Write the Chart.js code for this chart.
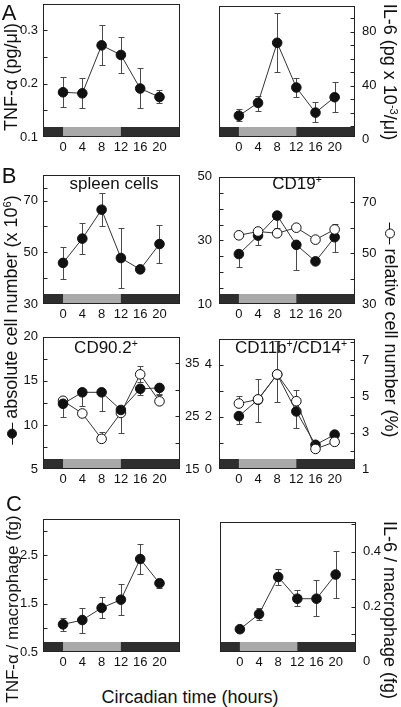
<!DOCTYPE html>
<html><head><meta charset="utf-8">
<script src="https://cdn.jsdelivr.net/npm/chart.js@4.4.0/dist/chart.umd.min.js"></script>
<style>
html,body{margin:0;padding:0;background:#fff;width:401px;height:707px;overflow:hidden;position:relative;font-family:"Liberation Sans",Arial,Helvetica,sans-serif;color:#111}
canvas{position:absolute}
.t{position:absolute;white-space:nowrap;line-height:1;font-size:18px}
.t sup{font-size:0.62em;vertical-align:0.55em;line-height:0}
.sym{display:inline-block;position:relative;width:22px;height:10px;vertical-align:middle;margin:0 4px 0 0}
.sym:before{content:"";position:absolute;left:0;right:0;top:50%;border-top:1.3px solid #111}
.sym i{position:absolute;left:6px;top:0;width:8px;height:8px;border-radius:50%;border:1px solid #111;background:#111}
.sym.o i{background:#fff}
</style></head><body>
<script>
// ---------- data ----------
const hours = [0, 4, 8, 12, 16, 20];
const xTicks = [0, 4, 8, 12, 16, 20];
const lightPhase = [0, 12];

// A: serum cytokines
const tnfSerum   = [0.184, 0.182, 0.272, 0.254, 0.191, 0.175];
const tnfSerumHi = [0.212, 0.210, 0.310, 0.288, 0.230, 0.189];
const tnfSerumLo = [0.156, 0.155, 0.235, 0.220, 0.154, 0.163];
const il6Serum   = [17.9, 27.4, 71.9, 38.8, 20.2, 31.6];
const il6SerumHi = [22.9, 32.6, 94.1, 45.7, 27.9, 42.9];
const il6SerumLo = [13.8, 21.4, 50.0, 32.1, 13.1, 20.7];

// B: cell numbers
const spleenAbs   = [45.9, 55.3, 66.5, 47.8, 43.4, 53.2];
const spleenAbsHi = [52.2, 61.3, 72.9, 59.4, null, 60.7];
const spleenAbsLo = [39.7, 49.3, 60.1, 36.1, null, 45.9];

const cd19Abs   = [25.7, 31.5, 37.8, 28.6, 23.4, 31.0];
const cd19AbsHi = [null, null, null, null, null, null];
const cd19AbsLo = [21.5, 28.4, 33.8, 20.7, null, 26.2];
const cd19Rel   = [57.0, 58.5, 57.8, 60.0, 55.3, 59.3];
const cd19RelHi = [null, null, null, null, null, 61.6];
const cd19RelLo = [null, null, null, null, null, null];

const cd90Abs   = [12.4, 13.7, 13.7, 11.7, 14.1, 14.2];
const cd90AbsHi = [13.0, null, null, null, null, null];
const cd90AbsLo = [10.9, 12.1, 11.6, 9.1, 13.4, 13.4];
const cd90Rel   = [27.9, 25.5, 20.7, 25.6, 32.9, 27.8];
const cd90RelHi = [28.5, null, 22.0, null, 34.4, 29.1];
const cd90RelLo = [null, null, null, null, 31.5, null];

const cd11Abs   = [2.03, 2.66, 3.63, 2.21, 0.93, 1.32];
const cd11AbsHi = [null, 3.44, 4.90, null, null, null];
const cd11AbsLo = [1.71, 1.79, 2.56, 1.57, null, null];
const cd11Rel   = [4.62, 4.85, 6.23, 4.75, 2.11, 2.50];
const cd11RelHi = [5.02, null, null, 5.39, null, null];
const cd11RelLo = [null, null, null, null, null, null];

// C: per macrophage
const tnfMac   = [1.07, 1.16, 1.41, 1.58, 2.42, 1.92];
const tnfMacHi = [1.21, 1.40, 1.63, 1.90, 2.74, 2.00];
const tnfMacLo = [0.93, 0.89, 1.20, 1.27, 2.12, 1.83];
const il6Mac   = [0.118, 0.173, 0.308, 0.229, 0.229, 0.317];
const il6MacHi = [null, 0.194, 0.338, 0.259, 0.297, 0.402];
const il6MacLo = [null, 0.153, 0.278, 0.202, 0.165, 0.232];

// axis tick values (all tick marks) and labelled ticks
const tnfSerumTicks = [0.1, 0.15, 0.2, 0.25, 0.3], tnfSerumLabels = [0.1, 0.2, 0.3];
const il6SerumTicks = [0, 10, 20, 30, 40, 50, 60, 70, 80, 90], il6SerumLabels = [0, 40, 80];
const spleenTicks = [30, 40, 50, 60, 70, 75], spleenLabels = [30, 50, 70];
const cd19AbsTicks = [10, 15, 20, 25, 30, 35, 40, 45, 50], cd19AbsLabels = [10, 30, 50];
const cd19RelTicks = [30, 40, 50, 60, 70, 80], cd19RelLabels = [30, 50, 70];
const cd90AbsTicks = [5, 7.5, 10, 12.5, 15, 17.5, 20], cd90AbsLabels = [5, 10, 15, 20];
const cd90RelTicks = [15, 20, 25, 30, 35, 40], cd90RelLabels = [15, 25, 35];
const cd11AbsTicks = [0, 1, 2, 3, 4, 5], cd11AbsLabels = [0, 2, 4];
const cd11RelTicks = [1, 2, 3, 4, 5, 6, 7, 8], cd11RelLabels = [1, 3, 5, 7];
const tnfMacTicks = [0.5, 1, 1.5, 2, 2.5, 3], tnfMacLabels = [0.5, 1.5, 2.5];
const il6MacTicks = [0, 0.1, 0.2, 0.3, 0.4, 0.5], il6MacLabels = [0, 0.2, 0.4];

// ---------- style / layout ----------
const FONT = '"Liberation Sans", Arial, Helvetica, sans-serif';
const INK = '#111';
const DARK = '#2e2e2e', LIGHT = '#a9a9a9';
const BAND = 10, PADT = 10, AX = 40, XH = 24;

const deco = {
  id: 'deco',
  beforeDatasetsDraw(chart) {
    const { ctx, chartArea: a, scales } = chart;
    const xs = scales.x;
    ctx.save();
    ctx.fillStyle = DARK;
    ctx.fillRect(a.left, a.bottom - BAND, a.right - a.left, BAND);
    const x0 = xs.getPixelForValue(lightPhase[0]), x1 = xs.getPixelForValue(lightPhase[1]);
    ctx.fillStyle = LIGHT;
    ctx.fillRect(x0, a.bottom - BAND, x1 - x0, BAND);
    ctx.strokeStyle = '#4a4a4a'; ctx.lineWidth = 1;
    chart.data.datasets.forEach(ds => {
      const ys = scales[ds.yAxisID];
      ds.data.forEach((pt, j) => {
        const x = Math.round(xs.getPixelForValue(pt.x)) + 0.5;
        const yv = ys.getPixelForValue(pt.y);
        [ds.errHi[j], ds.errLo[j]].forEach(e => {
          if (e == null) return;
          const ye = Math.round(ys.getPixelForValue(e)) + 0.5;
          ctx.beginPath();
          ctx.moveTo(x, yv); ctx.lineTo(x, ye);
          ctx.moveTo(x - 3, ye); ctx.lineTo(x + 3, ye);
          ctx.stroke();
        });
      });
    });
    ctx.restore();
  },
  afterDatasetsDraw(chart) {
    const { ctx, chartArea: a, scales } = chart;
    ctx.save();
    ctx.strokeStyle = '#222'; ctx.lineWidth = 1;
    const L = Math.round(a.left) + 0.5, R = Math.round(a.right) - 0.5;
    const T = Math.round(a.top) + 0.5, B = Math.round(a.bottom) - 0.5;
    ctx.strokeRect(L, T, R - L, B - T);
    Object.values(scales).forEach(s => {
      if (s.axis !== 'y') return;
      s.ticks.forEach(t => {
        if (t.value <= s.min || t.value >= s.max) return;
        const y = Math.round(s.getPixelForValue(t.value)) + 0.5;
        if (y > a.bottom - BAND) return;
        ctx.beginPath();
        if (s.position === 'left') { ctx.moveTo(L, y); ctx.lineTo(L + 4, y); }
        else { ctx.moveTo(R, y); ctx.lineTo(R - 4, y); }
        ctx.stroke();
      });
    });
    ctx.restore();
  }
};

function fmt(v) { return String(+v.toFixed(4)); }

function yAxis(pos, min, max, ticks, labels, pad) {
  return {
    type: 'linear', position: pos, min: min, max: max,
    afterBuildTicks: s => { s.ticks = ticks.map(v => ({ value: v })); },
    afterFit: s => { s.width = AX; },
    grid: { display: false, drawTicks: false },
    border: { display: false },
    ticks: {
      autoSkip: false, padding: pad, color: INK,
      font: { family: FONT, size: 13 },
      callback: v => labels.some(l => Math.abs(l - v) < 1e-9) ? fmt(v) : ''
    }
  };
}

function series(vals, hi, lo, axis, open) {
  return {
    data: hours.map((h, i) => ({ x: h, y: vals[i] })),
    errHi: hi, errLo: lo, yAxisID: axis,
    showLine: true, tension: 0,
    borderColor: '#333', borderWidth: 1,
    pointRadius: 4.8, pointBorderWidth: 1,
    pointBackgroundColor: open ? '#fff' : '#111',
    pointBorderColor: '#111'
  };
}

function panel(box, datasets, yL, yR) {
  const W = box[2] - box[0], H = box[3] - box[1];
  const c = document.createElement('canvas');
  c.width = W + 2 * AX; c.height = H + PADT + XH;
  c.style.left = (box[0] - AX) + 'px';
  c.style.top = (box[1] - PADT) + 'px';
  c.style.width = c.width + 'px'; c.style.height = c.height + 'px';
  document.body.appendChild(c);
  const scales = {
    x: {
      type: 'linear', min: -4.15, max: 24.25,
      afterBuildTicks: s => { s.ticks = xTicks.map(v => ({ value: v })); },
      afterFit: s => { s.height = XH; },
      grid: { display: false, drawTicks: false },
      border: { display: false },
      ticks: { autoSkip: false, maxRotation: 0, padding: 3, color: INK, font: { family: FONT, size: 13 } }
    }
  };
  if (yL) scales.yL = yL;
  if (yR) scales.yR = yR;
  new Chart(c, {
    type: 'scatter',
    data: { datasets: datasets },
    options: {
      responsive: false, animation: false, devicePixelRatio: 1,
      layout: { padding: { top: PADT, bottom: 0, left: yL ? 0 : AX, right: yR ? 0 : AX } },
      plugins: { legend: { display: false }, tooltip: { enabled: false } },
      scales: scales
    },
    plugins: [deco]
  });
}

// A
panel([43, 1, 180, 137],
  [series(tnfSerum, tnfSerumHi, tnfSerumLo, 'yL', false)],
  yAxis('left', 0.1, 0.35, tnfSerumTicks, tnfSerumLabels, 5), null);
panel([219, 1, 355, 137],
  [series(il6Serum, il6SerumHi, il6SerumLo, 'yR', false)],
  null, yAxis('right', 2.14, 99.3, il6SerumTicks, il6SerumLabels, 7));
// B
panel([43, 172, 180, 304],
  [series(spleenAbs, spleenAbsHi, spleenAbsLo, 'yL', false)],
  yAxis('left', 30, 80, spleenTicks, spleenLabels, 5), null);
panel([219, 172, 355, 304],
  [series(cd19Rel, cd19RelHi, cd19RelLo, 'yR', true), series(cd19Abs, cd19AbsHi, cd19AbsLo, 'yL', false)],
  yAxis('left', 10, 50, cd19AbsTicks, cd19AbsLabels, 7), yAxis('right', 30, 80, cd19RelTicks, cd19RelLabels, 7));
panel([43, 334, 180, 469],
  [series(cd90Abs, cd90AbsHi, cd90AbsLo, 'yL', false), series(cd90Rel, cd90RelHi, cd90RelLo, 'yR', true)],
  yAxis('left', 5, 20, cd90AbsTicks, cd90AbsLabels, 5), yAxis('right', 15, 40, cd90RelTicks, cd90RelLabels, 5));
panel([219, 334, 355, 469],
  [series(cd11Rel, cd11RelHi, cd11RelLo, 'yR', true), series(cd11Abs, cd11AbsHi, cd11AbsLo, 'yL', false)],
  yAxis('left', 0, 5, cd11AbsTicks, cd11AbsLabels, 7), yAxis('right', 1, 8.2, cd11RelTicks, cd11RelLabels, 7));
// C
panel([43, 516, 180, 652],
  [series(tnfMac, tnfMacHi, tnfMacLo, 'yL', false)],
  yAxis('left', 0.5, 3.25, tnfMacTicks, tnfMacLabels, 5), null);
panel([220, 517, 356, 652],
  [series(il6Mac, il6MacHi, il6MacLo, 'yR', false)],
  null, yAxis('right', 0.035, 0.509, il6MacTicks, il6MacLabels, 7));

// ---------- text ----------
function txt(html, cx, cy, rot, size) {
  const d = document.createElement('div');
  d.className = 't';
  d.innerHTML = html;
  if (size) d.style.fontSize = size + 'px';
  d.style.left = cx + 'px'; d.style.top = cy + 'px';
  d.style.transform = 'translate(-50%,-50%)' + (rot ? ' rotate(' + rot + 'deg)' : '');
  document.body.appendChild(d);
}
txt('A', 9, 13, 0, 22);
txt('B', 9, 176, 0, 22);
txt('C', 14, 504, 0, 22);
txt('TNF-α (pg/μl)', 11, 77, -90, 18);
txt('IL-6 (pg x 10<sup>-3</sup>/μl)', 390, 72, 90, 18);
txt('<span class="sym"><i></i></span>absolute cell number (x 10<sup>6</sup>)', 11, 320, -90, 18);
txt('<span class="sym o"><i></i></span>relative cell number (%)', 391, 330, 90, 18);
txt('TNF-α / macrophage (fg)', 12, 609, -90, 17);
txt('IL-6 / macrophage (fg)', 390, 610, 90, 18);
txt('Circadian time (hours)', 190, 697, 0, 18);
txt('spleen cells', 114, 183, 0, 17);
txt('CD19<sup>+</sup>', 297, 183, 0, 17);
txt('CD90.2<sup>+</sup>', 106, 347, 0, 17);
txt('CD11b<sup>+</sup>/CD14<sup>+</sup>', 291, 347, 0, 17);
</script>
</body></html>
